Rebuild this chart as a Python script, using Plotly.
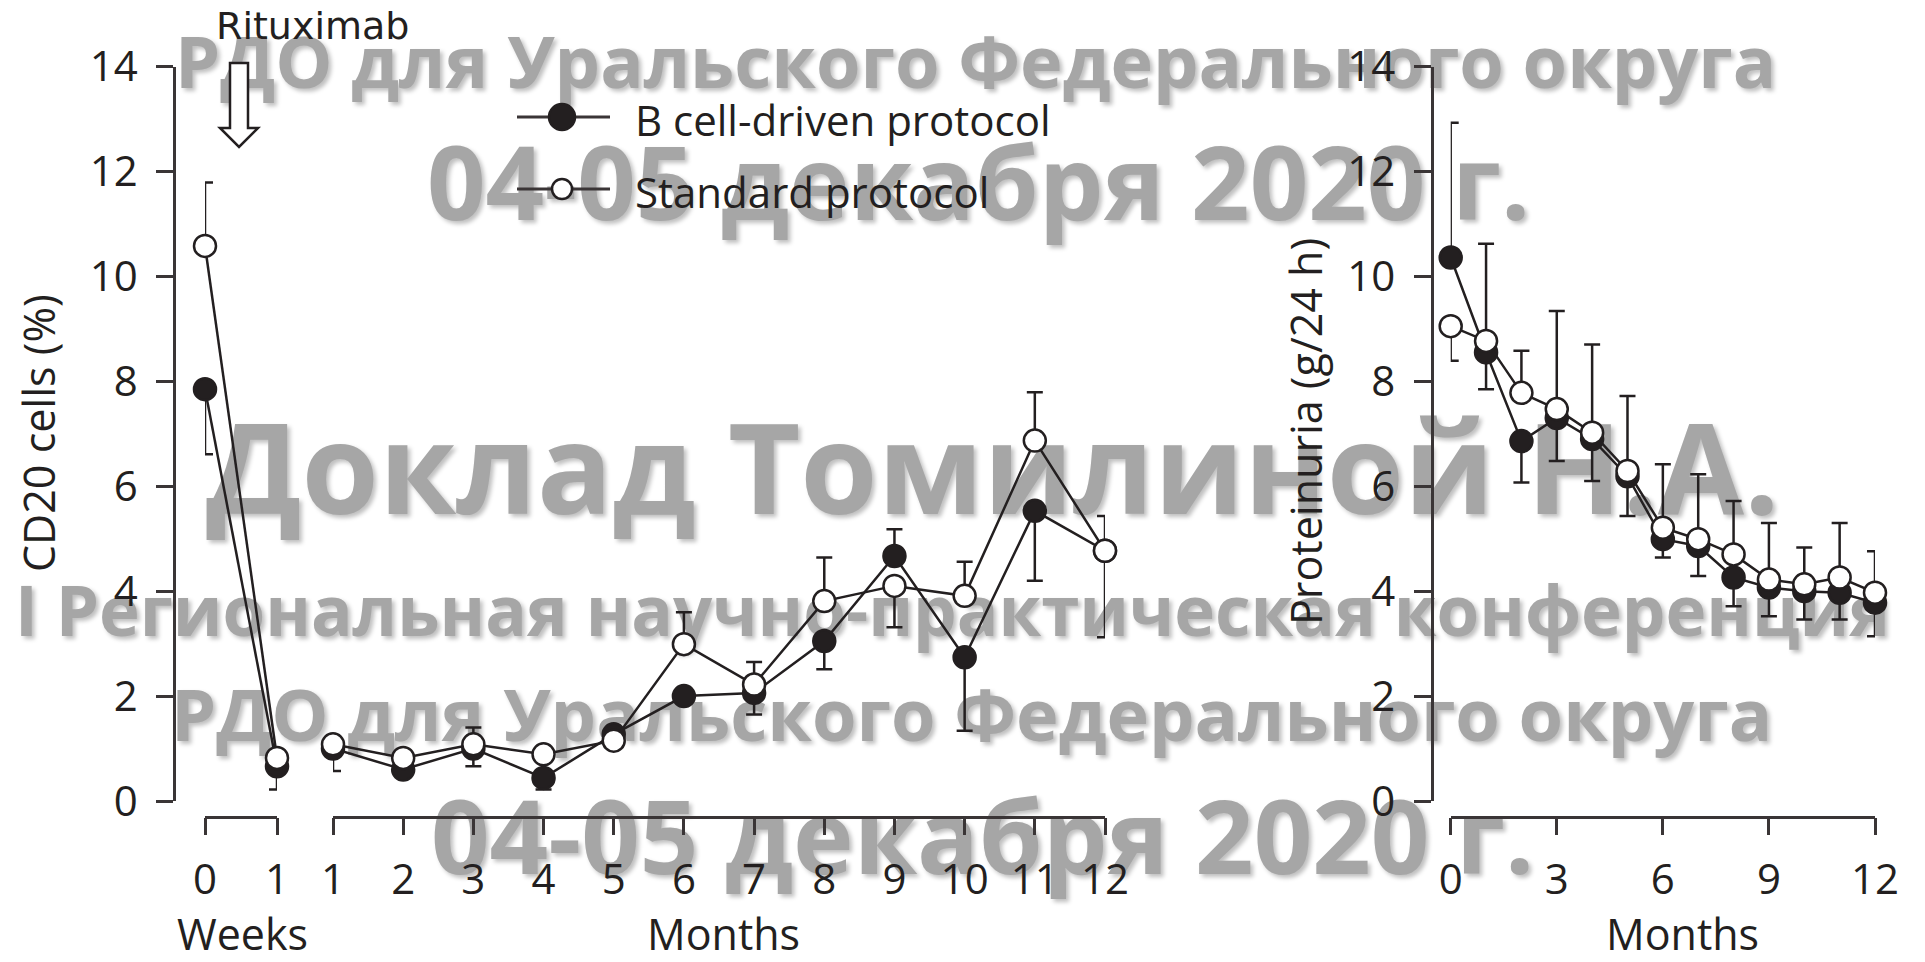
import plotly.graph_objects as go

W, H = 1925, 962
INK = "#231f20"
AXIS_INK = "#3a3536"
FONT = "Open Sans"
MARK_FONT = "#a6a6a6"

# ---- CD20 cells (%) : first weeks after rituximab ----
weeks = [0, 1]
cd20_bcell_wk = [7.85, 0.66]
cd20_bcell_wk_up = [0, 0]
cd20_bcell_wk_dn = [1.24, 0.44]
cd20_std_wk = [10.58, 0.82]
cd20_std_wk_up = [1.21, 0]
cd20_std_wk_dn = [0, 0]

# ---- CD20 cells (%) : months 1-12 ----
months = [1, 2, 3, 4, 5, 6, 7, 8, 9, 10, 11, 12]
cd20_bcell_mo = [1.0, 0.6, 1.0, 0.44, 1.27, 2.0, 2.06, 3.05, 4.67, 2.74, 5.53, 4.77]
cd20_bcell_mo_up = [0, 0, 0, 0, 0, 0, 0, 0, 0.51, 0, 0, 0]
cd20_bcell_mo_dn = [0.43, 0, 0.34, 0.22, 0, 0, 0.41, 0.54, 0, 1.40, 1.33, 1.65]
cd20_std_mo = [1.08, 0.82, 1.08, 0.89, 1.15, 2.99, 2.22, 3.81, 4.10, 3.91, 6.87, 4.77]
cd20_std_mo_up = [0, 0, 0.32, 0, 0, 0.61, 0.43, 0.83, 0, 0.65, 0.92, 0.66]
cd20_std_mo_dn = [0, 0, 0, 0, 0, 0, 0, 0, 0.79, 0, 0, 0]

# ---- Proteinuria (g/24 h) : months 0-12 ----
prot_months = [0, 1, 2, 3, 4, 5, 6, 7, 8, 9, 10, 11, 12]
prot_bcell = [10.36, 8.55, 6.86, 7.30, 6.90, 6.19, 4.99, 4.86, 4.26, 4.07, 4.00, 3.97, 3.78]
prot_bcell_up = [2.57, 0, 0, 0, 0, 0, 0, 0, 0, 0, 0, 0, 0]
prot_bcell_dn = [0, 0.70, 0.79, 0.82, 0.80, 0.76, 0.35, 0.57, 0.55, 0.55, 0.54, 0.51, 0.64]
prot_std = [9.05, 8.77, 7.78, 7.47, 7.02, 6.29, 5.21, 4.99, 4.70, 4.22, 4.13, 4.26, 3.97]
prot_std_up = [0, 1.85, 0.80, 1.87, 1.68, 1.43, 1.21, 1.24, 1.02, 1.08, 0.70, 1.04, 0.79]
prot_std_dn = [0.66, 0, 0, 0, 0, 0, 0, 0, 0, 0, 0, 0, 0]

# tick labels
y_ticks = [0, 2, 4, 6, 8, 10, 12, 14]
prot_x_ticks = [0, 3, 6, 9, 12]

series_names = ["B cell-driven protocol", "Standard protocol"]

# watermark lines: (text, left px, cap-middle px, font size)
watermark = [
    ("РДО для Уральского Федерального округа", 172, 65, 72),
    ("04-05 декабря 2020 г.", 424, 187, 102.5),
    ("Доклад Томилиной Н.А.", 203, 474, 125),
    ("I Региональная научно-практическая конференция", 12, 614, 69),
    ("РДО для Уральского Федерального округа", 168, 718, 72),
    ("04-05 декабря 2020 г.", 428, 841, 102.5),
]


def fx(px):
    return px / W


def fy(py):
    return 1 - py / H


def series(x, y, up, dn, filled, xaxis, yaxis, name):
    return go.Scatter(
        x=x, y=y, xaxis=xaxis, yaxis=yaxis, name=name, mode="lines+markers",
        showlegend=False, cliponaxis=False,
        line=dict(color=INK, width=2.5),
        marker=dict(symbol="circle", size=22,
                    color=INK if filled else "white",
                    line=dict(color=INK, width=2.5)),
        error_y=dict(type="data", symmetric=False, array=up, arrayminus=dn,
                     color=INK, thickness=2.5, width=8),
    )


fig = go.Figure()
# filled series first so the open circles sit on top
fig.add_trace(series(weeks, cd20_bcell_wk, cd20_bcell_wk_up, cd20_bcell_wk_dn, True, "x", "y", series_names[0]))
fig.add_trace(series(months, cd20_bcell_mo, cd20_bcell_mo_up, cd20_bcell_mo_dn, True, "x2", "y", series_names[0]))
fig.add_trace(series(prot_months, prot_bcell, prot_bcell_up, prot_bcell_dn, True, "x3", "y2", series_names[0]))
fig.add_trace(series(weeks, cd20_std_wk, cd20_std_wk_up, cd20_std_wk_dn, False, "x", "y", series_names[1]))
fig.add_trace(series(months, cd20_std_mo, cd20_std_mo_up, cd20_std_mo_dn, False, "x2", "y", series_names[1]))
fig.add_trace(series(prot_months, prot_std, prot_std_up, prot_std_dn, False, "x3", "y2", series_names[1]))

axis_style = dict(
    showline=True, linewidth=2.5, linecolor=AXIS_INK,
    ticks="outside", ticklen=17, tickwidth=2.5, tickcolor=AXIS_INK,
    showgrid=False, zeroline=False, fixedrange=True, automargin=False,
    tickfont=dict(family=FONT, size=42, color=INK),
)
x_base = fy(816.7)
y_dom = [fy(801), fy(66.5)]

fig.update_layout(
    width=W, height=H,
    margin=dict(l=0, r=0, t=0, b=0, pad=0, autoexpand=False),
    paper_bgcolor="white", plot_bgcolor="rgba(0,0,0,0)",
    showlegend=False,
    xaxis=dict(**axis_style, domain=[fx(205), fx(277)], range=[0, 1],
               tickvals=weeks, anchor="free", position=x_base, ticklabelstandoff=8),
    xaxis2=dict(**axis_style, domain=[fx(333), fx(1105)], range=[1, 12],
                tickvals=months, anchor="free", position=x_base, ticklabelstandoff=8),
    xaxis3=dict(**axis_style, domain=[fx(1450.7), fx(1875)], range=[0, 12],
                tickvals=prot_x_ticks, anchor="free", position=x_base, ticklabelstandoff=8),
    yaxis=dict(**axis_style, domain=y_dom, range=[0, 14], tickvals=y_ticks,
               anchor="free", position=fx(174), ticklabelstandoff=10),
    yaxis2=dict(**axis_style, domain=y_dom, range=[0, 14], tickvals=y_ticks,
                anchor="free", position=fx(1431.5), ticklabelstandoff=10),
)

shapes = []
annotations = []

# watermark text, kept underneath the chart
for text, left, mid, size in watermark:
    shapes.append(dict(
        type="rect", xref="paper", yref="paper", layer="below",
        x0=fx(left), x1=fx(left + 20), y0=fy(mid + 4), y1=fy(mid - 4),
        line=dict(width=0), fillcolor="rgba(0,0,0,0)",
        label=dict(text=text, textposition="middle left", padding=0,
                   font=dict(family=FONT, size=size, color=MARK_FONT, weight=700,
                             shadow="3px 3px 4px rgba(0,0,0,0.25)")),
    ))

# hollow arrow marking the rituximab dose
arrow = [(230, 63), (248, 63), (248, 128), (258, 128), (239, 147), (220, 128), (230, 128)]
path = "M " + " L ".join(f"{fx(x):.5f},{fy(y):.5f}" for x, y in arrow) + " Z"
shapes.append(dict(type="path", xref="paper", yref="paper", path=path,
                   line=dict(color=INK, width=2.5), fillcolor="white"))
annotations.append(dict(text="Rituximab", x=fx(312), y=fy(26), xref="paper", yref="paper",
                        showarrow=False, xanchor="center", yanchor="middle",
                        font=dict(family="DejaVu Sans", size=38, color=INK)))

# legend
for name, ly, filled in [(series_names[0], 117, True), (series_names[1], 189, False)]:
    shapes.append(dict(type="line", xref="paper", yref="paper",
                       x0=fx(517), x1=fx(610), y0=fy(ly), y1=fy(ly),
                       line=dict(color=AXIS_INK, width=3)))
    r = 13 if filled else 10
    shapes.append(dict(type="circle", xref="paper", yref="paper",
                       xsizemode="pixel", ysizemode="pixel",
                       xanchor=fx(562), yanchor=fy(ly),
                       x0=-r, x1=r, y0=-r, y1=r,
                       fillcolor=INK if filled else "white",
                       line=dict(color=INK, width=2.5)))
    annotations.append(dict(text=name, x=fx(633), y=fy(ly + 2), xref="paper", yref="paper",
                            showarrow=False, xanchor="left", yanchor="middle",
                            font=dict(family=FONT, size=42, color=INK)))

# axis titles
titles = [
    dict(text="CD20 cells (%)", x=fx(38), y=fy(433), textangle=-90),
    dict(text="Proteinuria (g/24 h)", x=fx(1305), y=fy(432), textangle=-90),
    dict(text="Weeks", x=fx(242), y=fy(933)),
    dict(text="Months", x=fx(723), y=fy(933)),
    dict(text="Months", x=fx(1682), y=fy(933)),
]
for a in titles:
    a.update(xref="paper", yref="paper", showarrow=False, xanchor="center", yanchor="middle",
             font=dict(family=FONT, size=43, color=INK))
annotations += titles

fig.update_layout(shapes=shapes, annotations=annotations)
fig.write_html("out.html", config={"displayModeBar": False})
